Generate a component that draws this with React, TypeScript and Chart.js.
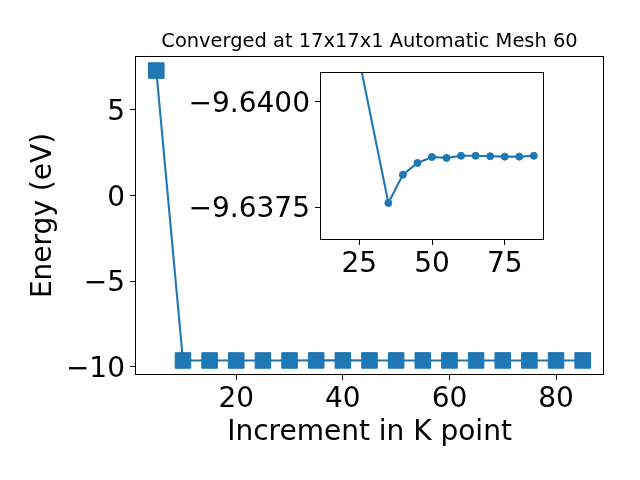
import React, { useEffect, useRef } from "react";
import { Chart, registerables } from "chart.js";

Chart.register(...registerables);

// ---- data ----
const kPoints = [5, 10, 15, 20, 25, 30, 35, 40, 45, 50, 55, 60, 65, 70, 75, 80, 85];
const energy = [
  7.3, -9.6415, -9.6412, -9.6411, -9.641, -9.6405, -9.6376, -9.63827, -9.63855, -9.63869,
  -9.63867, -9.63872, -9.63872, -9.63871, -9.6387, -9.6387, -9.63872,
];
const insetK = [25, 35, 40, 45, 50, 55, 60, 65, 70, 75, 80, 85];
const insetEnergy = [
  -9.641, -9.6376, -9.63827, -9.63855, -9.63869, -9.63867, -9.63872, -9.63872, -9.63871,
  -9.6387, -9.6387, -9.63872,
];
const mainXTicks = [20, 40, 60, 80];
const mainYTicks = [-10, -5, 0, 5];
const insetXTicks = [25, 50, 75];
const insetYTicks = [-9.64, -9.6375];
const titleText = "Converged at 17x17x1 Automatic Mesh 60";
const xLabel = "Increment in K point";
const yLabel = "Energy (eV)";

const BLUE = "#1f77b4";
const FONT = "'DejaVu Sans', sans-serif";

const fmt = (v: number, d: number) => {
  const s = v.toFixed(d);
  return s.replace("-", "\u2212");
};

const framePlugin = {
  id: "frame",
  afterDatasetsDraw(chart: any) {
    const { ctx, chartArea } = chart;
    ctx.save();
    ctx.strokeStyle = "#000";
    ctx.lineWidth = 1;
    const l = Math.round(chartArea.left) + 0.5;
    const t = Math.round(chartArea.top) + 0.5;
    const r = Math.round(chartArea.right) - 0.5;
    const b = Math.round(chartArea.bottom) - 0.5;
    ctx.strokeRect(l, t, r - l, b - t);
    ctx.restore();
  },
};

const whiteBgPlugin = {
  id: "whiteBg",
  beforeDraw(chart: any) {
    const { ctx, chartArea } = chart;
    ctx.save();
    ctx.fillStyle = "#fff";
    ctx.fillRect(chartArea.left, chartArea.top, chartArea.right - chartArea.left, chartArea.bottom - chartArea.top);
    ctx.restore();
  },
};

const titlePlugin = {
  id: "mplTitle",
  afterDraw(chart: any) {
    const { ctx, chartArea } = chart;
    ctx.save();
    ctx.fillStyle = "#000";
    ctx.font = `19.44px ${FONT}`;
    ctx.textAlign = "center";
    ctx.textBaseline = "alphabetic";
    ctx.fillText(titleText, (chartArea.left + chartArea.right) / 2, 47);
    ctx.restore();
  },
};

const tickGrid = {
  drawOnChartArea: false,
  drawTicks: true,
  tickLength: 5,
  color: "#000",
  tickColor: "#000",
  lineWidth: 1,
};

const fixSize = (w: number | null, h: number | null) => (s: any) => {
  if (w !== null) s.width = w;
  if (h !== null) s.height = h;
  s.paddingTop = 0;
  s.paddingBottom = 0;
  s.paddingLeft = 0;
  s.paddingRight = 0;
};

export default function App() {
  const mainRef = useRef<HTMLCanvasElement>(null);
  const insetRef = useRef<HTMLCanvasElement>(null);

  useEffect(() => {
    document.body.style.margin = "0";
    const main = new Chart(mainRef.current!, {
      type: "line",
      data: {
        datasets: [
          {
            data: kPoints.map((k, i) => ({ x: k, y: energy[i] })),
            borderColor: BLUE,
            backgroundColor: BLUE,
            borderWidth: 2.1,
            pointStyle: "rect",
            pointRadius: 11,
            pointBorderWidth: 1,
            pointBackgroundColor: BLUE,
            pointBorderColor: BLUE,
            tension: 0,
            clip: 0,
          },
        ],
      },
      options: {
        responsive: false,
        animation: false,
        events: [],
        layout: { padding: { top: 56, right: 36, left: 0, bottom: 0 } },
        plugins: { legend: { display: false }, tooltip: { enabled: false }, title: { display: false } },
        scales: {
          x: {
            type: "linear",
            min: 1,
            max: 89,
            afterFit: fixSize(null, 105),
            afterBuildTicks: (s: any) => {
              s.ticks = mainXTicks.map((v) => ({ value: v }));
            },
            border: { display: false },
            grid: tickGrid,
            ticks: {
              color: "#000",
              font: { family: FONT, size: 28 },
              padding: 3,
              maxRotation: 0,
              callback: (v: any) => fmt(Number(v), 0),
            },
            title: {
              display: true,
              text: xLabel,
              color: "#000",
              font: { family: FONT, size: 28 },
              padding: { top: 0, bottom: 30 },
            },
          },
          y: {
            type: "linear",
            min: -10.49,
            max: 8.15,
            afterFit: fixSize(135, null),
            afterBuildTicks: (s: any) => {
              s.ticks = mainYTicks.map((v) => ({ value: v }));
            },
            border: { display: false },
            grid: tickGrid,
            ticks: {
              color: "#000",
              font: { family: FONT, size: 28 },
              padding: 5,
              labelOffset: 3,
              callback: (v: any) => fmt(Number(v), 0),
            },
            title: {
              display: true,
              text: yLabel,
              color: "#000",
              font: { family: FONT, size: 28 },
              padding: { top: 27, bottom: 0 },
            },
          },
        },
      },
      plugins: [framePlugin, titlePlugin],
    });

    const inset = new Chart(insetRef.current!, {
      type: "line",
      data: {
        datasets: [
          {
            data: insetK.map((k, i) => ({ x: k, y: insetEnergy[i] })),
            borderColor: BLUE,
            backgroundColor: BLUE,
            borderWidth: 2.1,
            pointStyle: "circle",
            pointRadius: 3.5,
            pointBorderWidth: 1,
            pointBackgroundColor: BLUE,
            pointBorderColor: BLUE,
            tension: 0,
            clip: 0,
          },
        ],
      },
      options: {
        responsive: false,
        animation: false,
        events: [],
        layout: { padding: { top: 12, right: 16, left: 0, bottom: 0 } },
        plugins: { legend: { display: false }, tooltip: { enabled: false }, title: { display: false } },
        scales: {
          x: {
            type: "linear",
            min: 11.5,
            max: 88.5,
            afterFit: fixSize(null, 50),
            afterBuildTicks: (s: any) => {
              s.ticks = insetXTicks.map((v) => ({ value: v }));
            },
            border: { display: false },
            grid: tickGrid,
            ticks: {
              color: "#000",
              font: { family: FONT, size: 28 },
              padding: 3,
              maxRotation: 0,
              callback: (v: any) => fmt(Number(v), 0),
            },
          },
          y: {
            type: "linear",
            reverse: true,
            min: -9.64071,
            max: -9.63672,
            afterFit: fixSize(170, null),
            afterBuildTicks: (s: any) => {
              s.ticks = insetYTicks.map((v) => ({ value: v }));
            },
            border: { display: false },
            grid: tickGrid,
            ticks: {
              color: "#000",
              font: { family: FONT, size: 28 },
              padding: 5,
              labelOffset: 3,
              callback: (v: any) => fmt(Number(v), 4),
            },
          },
        },
      },
      plugins: [whiteBgPlugin, framePlugin],
    });

    return () => {
      main.destroy();
      inset.destroy();
    };
  }, []);

  return (
    <div style={{ position: "relative", width: 640, height: 480, background: "#fff" }}>
      <canvas ref={mainRef} width={640} height={480} style={{ position: "absolute", left: 0, top: 0, display: "block" }} />
      <canvas ref={insetRef} width={410} height={230} style={{ position: "absolute", left: 150, top: 60, display: "block" }} />
    </div>
  );
}
